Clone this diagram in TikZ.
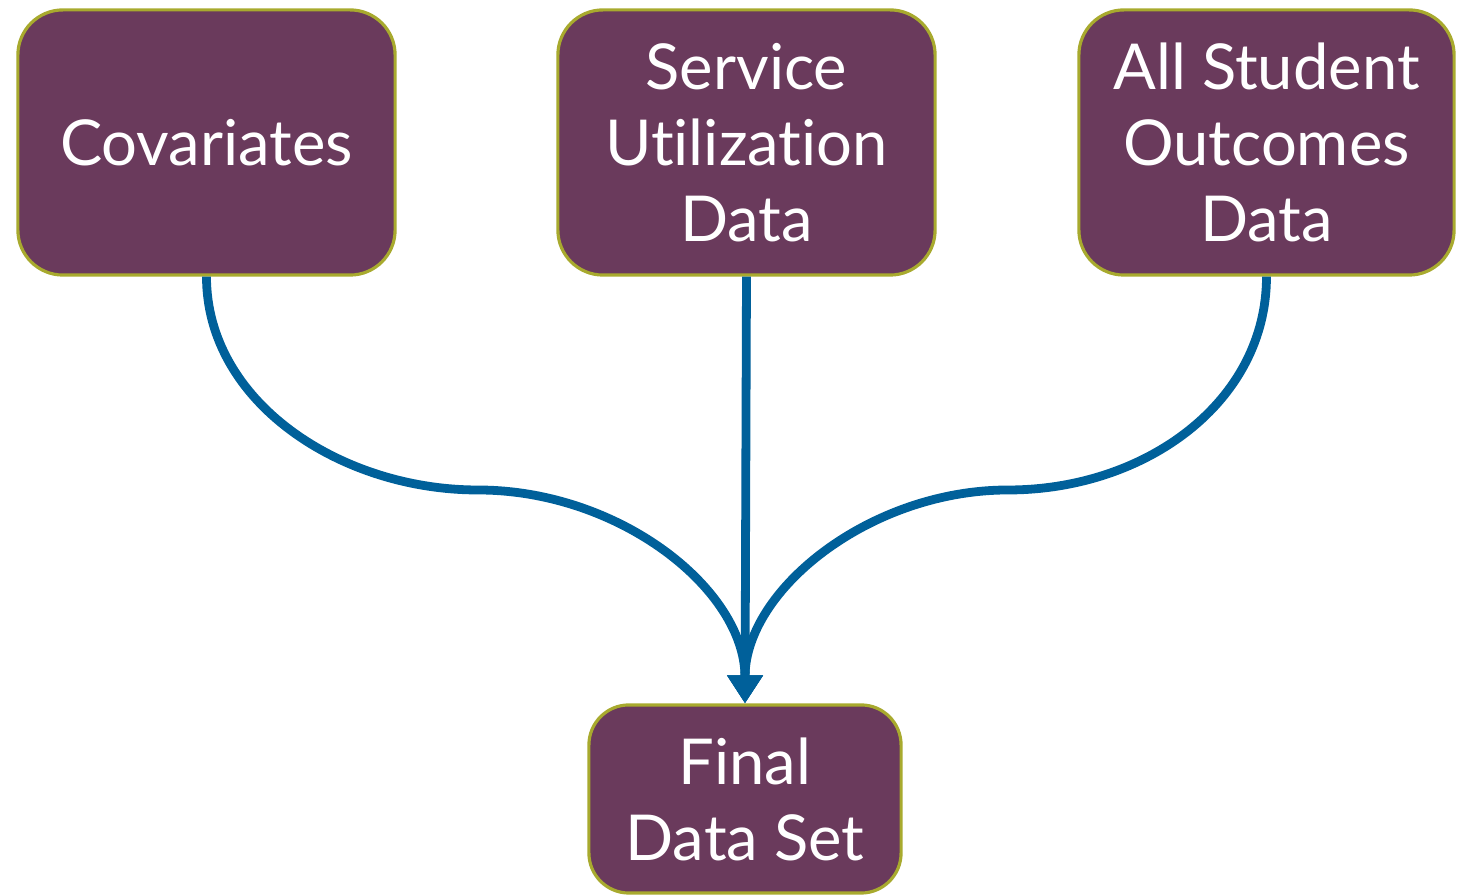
\documentclass[tikz,border=0pt]{standalone}
\usepackage{fontspec}
\setmainfont{Lato}[Ligatures=NoCommon]
\usetikzlibrary{arrows.meta}
\definecolor{boxfill}{HTML}{6A3A5C}
\definecolor{boxline}{HTML}{A8AA2E}
\definecolor{flow}{HTML}{00609A}
\begin{document}
\begin{tikzpicture}[x=0.01cm,y=-0.01cm,
  databox/.style={draw=boxline, line width=0.9pt, fill=boxfill, rounded corners=0.45cm,
    text=white, align=center, inner sep=0pt,
    font=\fontsize{18}{21.6}\selectfont},
  flowline/.style={draw=flow, line width=2.5pt,
    -{Triangle[width=0.34cm,length=0.28cm]}}]
\useasboundingbox (0,0) rectangle (1468,895);

\node[databox, minimum width=3.77cm, minimum height=2.65cm] (cov) at (206.5,142.5) {Covariates};
\node[databox, minimum width=3.77cm, minimum height=2.65cm] (svc) at (746.5,142.5) {Service\\Utilization\\Data};
\node[databox, minimum width=3.75cm, minimum height=2.65cm] (out) at (1266.5,142.5) {All Student\\Outcomes\\Data};
\node[databox, minimum width=3.12cm, minimum height=1.88cm, rounded corners=0.4cm] (final) at (745,799) {Final\\Data Set};

% bend points of the two side flows
\coordinate (lbend) at (478,490);
\coordinate (rbend) at (1008,490);

\draw[flowline] (cov.south) .. controls +(0,125) and (340,490) .. (lbend)
  .. controls (620,490) and (745,590) .. (final.north);
\draw[flowline] (svc.south) -- (final.north);
\draw[flowline] (out.south) .. controls +(0,125) and (1146,490) .. (rbend)
  .. controls (870,490) and (745,590) .. (final.north);
\end{tikzpicture}
\end{document}
